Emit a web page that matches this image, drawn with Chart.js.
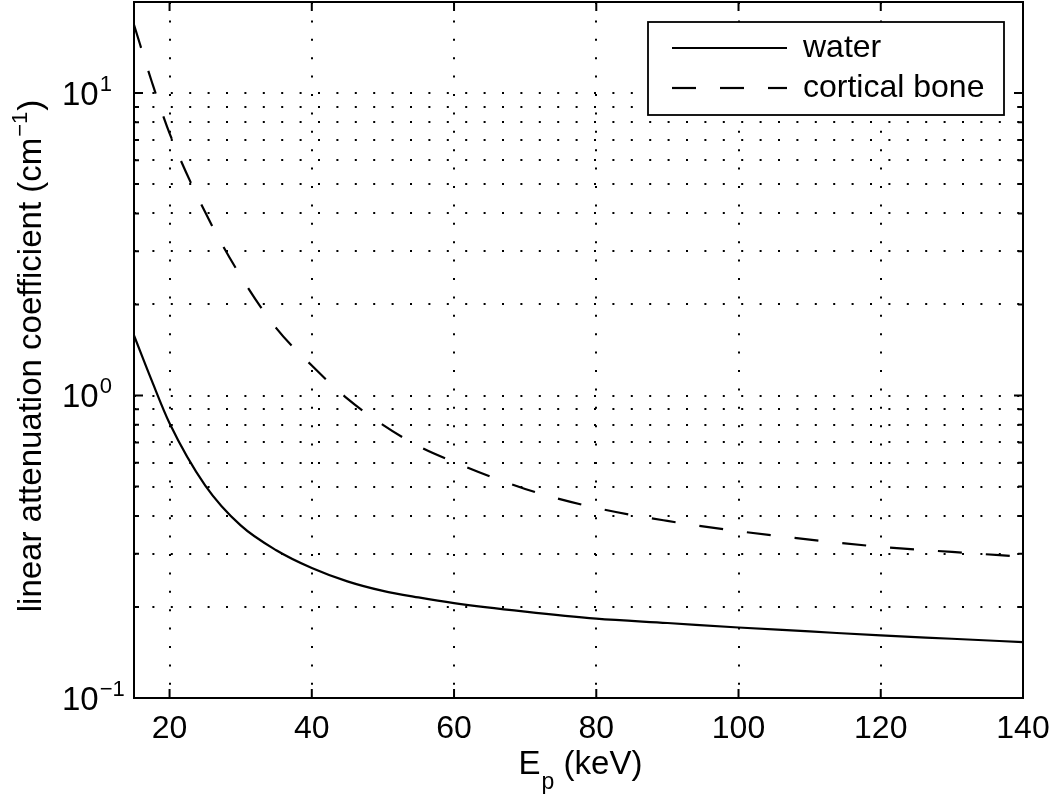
<!DOCTYPE html>
<html><head><meta charset="utf-8">
<script src="https://cdn.jsdelivr.net/npm/chart.js@4.4.0/dist/chart.umd.min.js"></script>
<style>html,body{margin:0;padding:0;background:#fff;}</style>
</head><body>
<canvas id="c" width="1050" height="796"></canvas>
<script>
// ---- data ----
const energies = [15, 17.5, 20, 25, 30, 35, 40, 45, 50, 55, 60, 70, 80, 90, 100, 110, 120, 130, 140];
const water    = [1.58, 1.12, 0.81, 0.505, 0.372, 0.308, 0.269, 0.243, 0.226, 0.215, 0.206, 0.193, 0.183, 0.177, 0.171, 0.166, 0.161, 0.157, 0.153];
const bone     = [16.8, 10.9, 7.36, 4.04, 2.48, 1.67, 1.256, 0.977, 0.80, 0.68, 0.603, 0.491, 0.425, 0.385, 0.356, 0.334, 0.316, 0.304, 0.293];
const seriesNames = ['water', 'cortical bone'];
const xTicks = [20, 40, 60, 80, 100, 120, 140];
const yTicks = [0.1, 0.2, 0.3, 0.4, 0.5, 0.6, 0.7, 0.8, 0.9, 1, 2, 3, 4, 5, 6, 7, 8, 9, 10, 20];
const yMajor = [0.1, 1, 10];
const yMajorBase = ['10', '10', '10'];
const yMajorExp = ['\u22121', '0', '1'];
const xTitleParts = ['E', 'p', ' (keV)'];
const yTitleParts = ['linear attenuation coefficient (cm', '\u22121', ')'];

const FONT = 'Liberation Sans, Arial, Helvetica, sans-serif';
const FS = 32;

const frame = {
  id: 'frame',
  afterDraw(chart) {
    const {ctx, chartArea: a, scales} = chart;
    const ys = scales.y, xs = scales.x;
    ctx.save();
    ctx.fillStyle = '#000';
    ctx.strokeStyle = '#000';
    // legend box
    const ds = chart.data.datasets;
    const bx = a.right - 375, by = a.top + 20, bw = 356, bh = 93;
    ctx.fillStyle = '#fff';
    ctx.fillRect(bx, by, bw, bh);
    ctx.fillStyle = '#000';
    ctx.lineWidth = 1.8;
    ctx.setLineDash([]);
    ctx.strokeRect(bx, by, bw, bh);
    ctx.font = FS + 'px ' + FONT;
    ctx.textBaseline = 'middle';
    ctx.textAlign = 'left';
    ds.forEach((d, i) => {
      const yy = by + 26 + i * 40;
      ctx.lineWidth = d.borderWidth;
      ctx.setLineDash(d.borderDash || []);
      ctx.beginPath();
      ctx.moveTo(bx + 24, yy);
      ctx.lineTo(bx + 139, yy);
      ctx.stroke();
      ctx.setLineDash([]);
      ctx.fillText(d.label, bx + 155, yy);
    });
    // axes box
    ctx.lineWidth = 2;
    ctx.strokeRect(a.left, a.top, a.right - a.left, a.bottom - a.top);
    // inward ticks
    ctx.lineWidth = 2;
    yTicks.forEach(v => {
      const p = ys.getPixelForValue(v);
      const len = yMajor.includes(v) ? 9 : 5;
      ctx.beginPath();
      ctx.moveTo(a.left, p); ctx.lineTo(a.left + len, p);
      ctx.moveTo(a.right, p); ctx.lineTo(a.right - len, p);
      ctx.stroke();
    });
    xTicks.forEach(v => {
      const p = xs.getPixelForValue(v);
      ctx.beginPath();
      ctx.moveTo(p, a.bottom); ctx.lineTo(p, a.bottom - 9);
      ctx.moveTo(p, a.top); ctx.lineTo(p, a.top + 9);
      ctx.stroke();
    });
    // y tick labels with superscript exponents
    ctx.textBaseline = 'alphabetic';
    ctx.textAlign = 'left';
    yMajor.forEach((v, i) => {
      const p = ys.getPixelForValue(v);
      const base = p + 11.5;
      const x0 = a.left - 72;
      ctx.font = '33px ' + FONT;
      ctx.fillText(yMajorBase[i], x0, base);
      const w = ctx.measureText(yMajorBase[i]).width;
      ctx.font = '22px ' + FONT;
      ctx.fillText(yMajorExp[i], x0 + w + 1, base - 14);
    });
    // x title with subscript
    {
      const f1 = '33px ' + FONT, f2 = '23px ' + FONT;
      ctx.font = f1; const w0 = ctx.measureText(xTitleParts[0]).width;
      const w2 = ctx.measureText(xTitleParts[2]).width;
      ctx.font = f2; const w1 = ctx.measureText(xTitleParts[1]).width;
      const total = w0 + w1 + w2 + 1;
      let x = (a.left + a.right) / 2 - total / 2 + 2;
      const base = 774;
      ctx.font = f1; ctx.fillText(xTitleParts[0], x, base); x += w0 + 1;
      ctx.font = f2; ctx.fillText(xTitleParts[1], x, base + 15); x += w1;
      ctx.font = f1; ctx.fillText(xTitleParts[2], x, base);
    }
    // y title (rotated) with superscript
    {
      const f1 = '33px ' + FONT, f2 = '22px ' + FONT;
      ctx.font = f1; const w0 = ctx.measureText(yTitleParts[0]).width;
      const w2 = ctx.measureText(yTitleParts[2]).width;
      ctx.font = f2; const w1 = ctx.measureText(yTitleParts[1]).width;
      const total = w0 + w1 + w2 + 2;
      ctx.translate(41, (a.top + a.bottom) / 2);
      ctx.rotate(-Math.PI / 2);
      let x = -total / 2 - 6;
      ctx.font = f1; ctx.fillText(yTitleParts[0], x, 0); x += w0 + 1;
      ctx.font = f2; ctx.fillText(yTitleParts[1], x, -14); x += w1 + 1;
      ctx.font = f1; ctx.fillText(yTitleParts[2], x, 0);
    }
    ctx.restore();
  }
};

new Chart(document.getElementById('c'), {
  type: 'line',
  data: {
    datasets: [
      { label: seriesNames[0], data: energies.map((e, i) => ({x: e, y: water[i]})),
        borderColor: '#000', borderWidth: 2.2, pointRadius: 0, fill: false, cubicInterpolationMode: 'monotone' },
      { label: seriesNames[1], data: energies.map((e, i) => ({x: e, y: bone[i]})),
        borderColor: '#000', borderWidth: 2.2, borderDash: [24, 24], pointRadius: 0, fill: false, cubicInterpolationMode: 'monotone' }
    ]
  },
  options: {
    responsive: false, animation: false, devicePixelRatio: 1,
    layout: { padding: { left: 0, right: 27, top: 2, bottom: 0 } },
    plugins: { legend: { display: false }, tooltip: { enabled: false } },
    scales: {
      x: {
        type: 'linear', min: 15, max: 140,
        afterBuildTicks: s => { s.ticks = xTicks.map(v => ({value: v})); },
        afterFit: s => { s.height = 98; s.paddingLeft = 0; s.paddingRight = 0; },
        ticks: { color: '#000', font: { family: FONT, size: FS }, padding: 12, maxRotation: 0, autoSkip: false,
                 callback: v => String(v) },
        grid: { color: '#000', lineWidth: 2, drawTicks: false },
        border: { display: false, dash: [2, 16.4] },
        title: { display: false }
      },
      y: {
        type: 'logarithmic', min: 0.1, max: 20,
        afterBuildTicks: s => { s.ticks = yTicks.map(v => ({value: v, major: yMajor.includes(v)})); },
        afterFit: s => { s.width = 134; s.paddingTop = 0; s.paddingBottom = 0; },
        ticks: { display: false },
        grid: { color: '#000', lineWidth: 2, drawTicks: false },
        border: { display: false, dash: [2, 16.4] },
        title: { display: false }
      }
    }
  },
  plugins: [frame]
});
</script>
</body></html>
